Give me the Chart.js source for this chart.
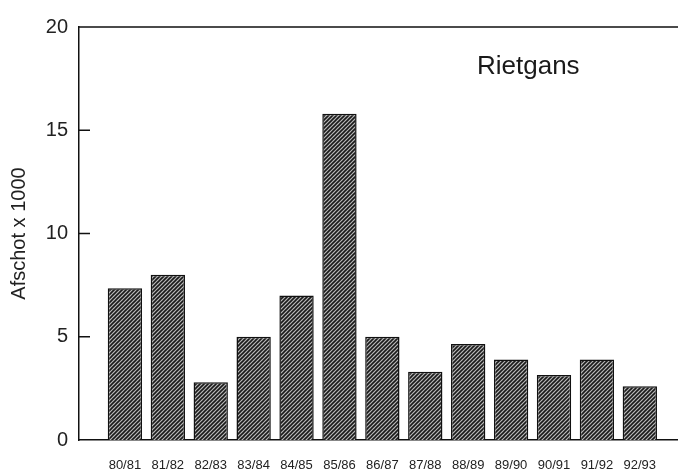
<!DOCTYPE html>
<html>
<head>
<meta charset="utf-8">
<script src="https://cdn.jsdelivr.net/npm/chart.js@4/dist/chart.umd.min.js"></script>
<style>
  html, body { margin: 0; padding: 0; background: #fff; }
  #wrap { width: 678px; height: 474px; }
</style>
</head>
<body>
<div id="wrap"><canvas id="chart" width="678" height="474"></canvas></div>
<script>
const seasons = ['80/81', '81/82', '82/83', '83/84', '84/85', '85/86', '86/87',
                 '87/88', '88/89', '89/90', '90/91', '91/92', '92/93'];
const afschot = [7.35, 8.0, 2.8, 5.0, 7.0, 15.8, 5.0, 3.3, 4.65, 3.9, 3.15, 3.9, 2.6];
const yTicks = [0, 5, 10, 15, 20];

// hatched fill for the bars
function makeHatch() {
    const c = document.createElement('canvas');
    c.width = 4; c.height = 4;
    const g = c.getContext('2d');
    g.fillStyle = '#b8b8b8';
    g.fillRect(0, 0, 4, 4);
    g.strokeStyle = '#1a1a1a';
    g.lineWidth = 1.6;
    g.beginPath();
    g.moveTo(-1, 5); g.lineTo(5, -1);
    g.moveTo(-3, 3); g.lineTo(3, -3);
    g.moveTo(1, 7); g.lineTo(7, 1);
    g.stroke();
    return g.createPattern(c, 'repeat');
}

// top frame line and inward tick marks
const frame = {
    id: 'frame',
    afterDraw(chart) {
        const ctx = chart.ctx;
        const y = chart.scales.y;
        const a = chart.chartArea;
        ctx.save();
        ctx.strokeStyle = '#111';
        ctx.lineWidth = 1.5;
        ctx.beginPath();
        ctx.moveTo(a.left, y.getPixelForValue(20));
        ctx.lineTo(a.right, y.getPixelForValue(20));
        yTicks.slice(1, -1).forEach(v => {
            const p = y.getPixelForValue(v);
            ctx.moveTo(a.left, p);
            ctx.lineTo(a.left + 11, p);
        });
        ctx.stroke();
        ctx.restore();
    }
};

const ctx = document.getElementById('chart').getContext('2d');
new Chart(ctx, {
    type: 'bar',
    data: {
        datasets: [{
            data: afschot.map((v, i) => ({ x: i, y: v })),
            backgroundColor: makeHatch(),
            borderColor: '#111',
            borderWidth: 1.5,
            barPercentage: 0.8,
            categoryPercentage: 1
        }]
    },
    options: {
        responsive: false,
        animation: false,
        layout: { padding: { top: 27, right: 0, left: 0, bottom: 0 } },
        plugins: {
            legend: { display: false },
            tooltip: { enabled: false },
            title: { display: false }
        },
        scales: {
            x: {
                type: 'linear',
                offset: false,
                min: -1.07,
                max: 12.89,
                afterBuildTicks: s => { s.ticks = seasons.map((c, i) => ({ value: i })); },
                afterFit: s => { s.height = 34; },
                grid: { display: false, drawTicks: false, offset: false },
                border: { display: true, color: '#111', width: 1.5 },
                ticks: {
                    padding: 18,
                    autoSkip: false,
                    maxRotation: 0,
                    color: '#222',
                    font: { family: '"Liberation Sans Narrow", "Liberation Sans", Arial, sans-serif', size: 13 },
                    callback: v => seasons[v] ?? ''
                }
            },
            y: {
                min: 0,
                max: 20,
                afterBuildTicks: s => { s.ticks = yTicks.map(v => ({ value: v })); },
                afterFit: s => { s.width = 79; },
                grid: { display: false, drawTicks: false },
                border: { display: true, color: '#111', width: 1.5 },
                ticks: {
                    padding: 11,
                    color: '#222',
                    font: { family: '"Liberation Sans", Arial, sans-serif', size: 20 }
                },
                title: {
                    display: true,
                    text: 'Afschot x 1000',
                    color: '#222',
                    padding: { top: 7, bottom: 0 },
                    font: { family: '"Liberation Sans", Arial, sans-serif', size: 20 }
                }
            }
        }
    },
    plugins: [frame, {
        id: 'label',
        afterDraw(chart) {
            const c = chart.ctx;
            c.save();
            c.fillStyle = '#1a1a1a';
            c.font = '26px "Liberation Sans", Arial, sans-serif';
            c.textAlign = 'left';
            c.textBaseline = 'middle';
            c.fillText('Rietgans', 477, 67);
            c.restore();
        }
    }]
});
</script>
</body>
</html>
